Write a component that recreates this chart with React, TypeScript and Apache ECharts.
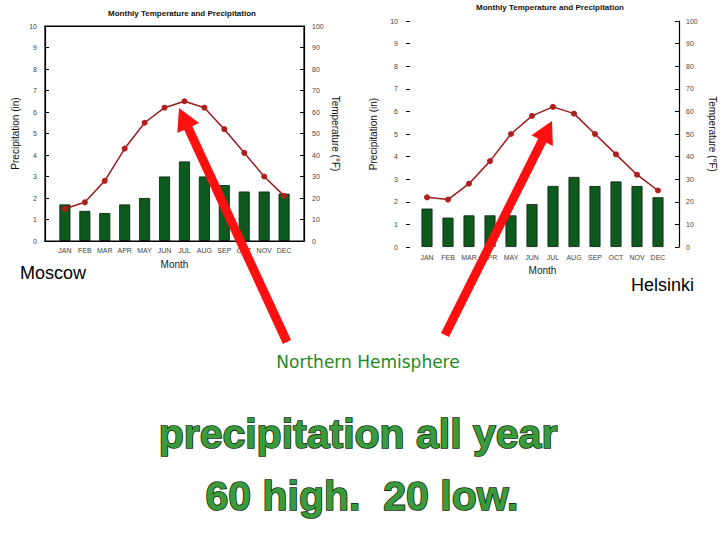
import React, { useEffect, useRef } from 'react';
import * as echarts from 'echarts';

const months = ['JAN', 'FEB', 'MAR', 'APR', 'MAY', 'JUN', 'JUL', 'AUG', 'SEP', 'OCT', 'NOV', 'DEC'];
const moscowPrecip = [1.7, 1.4, 1.3, 1.7, 2.0, 3.0, 3.7, 3.0, 2.6, 2.3, 2.3, 2.2];
const moscowTemp = [15, 18, 28, 43, 55, 62, 65, 62, 52, 41, 30, 21];
const helsinkiPrecip = [1.7, 1.3, 1.4, 1.4, 1.4, 1.9, 2.7, 3.1, 2.7, 2.9, 2.7, 2.2];
const helsinkiTemp = [22, 21, 28, 38, 50, 58, 62, 59, 50, 41, 32, 25];
const precipRange = [0, 10, 1];
const tempRange = [0, 100, 10];

const FONT = '"Liberation Sans", Arial, sans-serif';
const TITLE = 'Monthly Temperature and Precipitation';
const LINE_W = 1.2;
const MOSCOW_GRID = { left: 45, top: 26, width: 259, height: 215 };
const HELSINKI_GRID = { left: 406, top: 21, width: 273, height: 226 };

function arrow(tail: number[], tip: number[], shaft: number, headLen: number, headHalf: number, color: string) {
  const dx = tip[0] - tail[0];
  const dy = tip[1] - tail[1];
  const L = Math.hypot(dx, dy);
  const ux = dx / L, uy = dy / L;
  const bx = tip[0] - ux * headLen, by = tip[1] - uy * headLen;
  const nx = -uy, ny = ux;
  return [
    {
      type: 'line', z: 100,
      shape: { x1: tail[0], y1: tail[1], x2: bx + ux * 2, y2: by + uy * 2 },
      style: { stroke: color, lineWidth: shaft },
    },
    {
      type: 'polygon', z: 100,
      shape: { points: [[tip[0], tip[1]], [bx + nx * headHalf, by + ny * headHalf], [bx - nx * headHalf, by - ny * headHalf]] },
      style: { fill: color },
    },
  ];
}

function xAxisFor(gridIndex: number, margin: number, nameGap: number, showLine: boolean) {
  return {
    type: 'value', gridIndex, min: -1, max: 12, interval: 1, position: 'bottom',
    axisLine: { show: showLine, onZero: false, lineStyle: { color: '#000', width: LINE_W } },
    axisTick: { show: false }, splitLine: { show: false },
    axisLabel: {
      fontSize: 7, color: '#444', fontFamily: FONT, margin,
      formatter: (v: number) => (months[v] !== undefined ? months[v] : ''),
    },
    name: 'Month', nameLocation: 'middle', nameGap,
    nameTextStyle: { fontSize: 10, color: '#222', fontFamily: FONT },
  };
}

function yAxisFor(gridIndex: number, pos: 'left' | 'right', range: number[], name: string, nameGap: number, showLine: boolean, margin: number) {
  return {
    type: 'value', gridIndex, position: pos, min: range[0], max: range[1], interval: range[2],
    axisLine: { show: showLine, onZero: false, lineStyle: { color: '#000', width: LINE_W } },
    axisTick: { show: true, inside: true, length: 4, lineStyle: { color: '#000' } },
    splitLine: { show: false },
    axisLabel: { fontSize: 7, color: '#444', fontFamily: FONT, margin },
    name, nameLocation: 'middle', nameGap, nameRotate: pos === 'left' ? 90 : -90,
    nameTextStyle: { fontSize: 10, color: '#111', fontFamily: FONT },
  };
}

function barSeries(xi: number, yi: number, vals: number[]) {
  return {
    type: 'bar', xAxisIndex: xi, yAxisIndex: yi, barWidth: 11,
    data: vals.map((v, i) => [i, v]),
    itemStyle: { color: '#0e5a1e', borderColor: '#06200b', borderWidth: 0.8 },
  };
}

function lineSeries(xi: number, yi: number, vals: number[]) {
  return {
    type: 'line', xAxisIndex: xi, yAxisIndex: yi, z: 5,
    data: vals.map((v, i) => [i, v]),
    symbol: 'circle', symbolSize: 6,
    lineStyle: { color: '#9a1a1a', width: 1.5 },
    itemStyle: { color: '#b01e1e' },
  };
}

export default function App() {
  const ref = useRef<HTMLDivElement>(null);
  useEffect(() => {
    const chart = echarts.init(ref.current!, null, { renderer: 'svg' });
    const bigText = (text: string, x: number, y: number) => ({
      type: 'text', x, y, z: 50,
      style: {
        text, font: `bold 41px ${FONT}`, fill: '#3b9a3b', stroke: '#0f2f0f', lineWidth: 1.6,
        align: 'center', verticalAlign: 'middle', textAlign: 'center', textVerticalAlign: 'middle',
      },
    });
    const option: any = {
      animation: false,
      backgroundColor: '#fff',
      grid: [MOSCOW_GRID, HELSINKI_GRID],
      xAxis: [
        xAxisFor(0, 6, 18, true),
        xAxisFor(1, 7, 18, false),
        {
          type: 'value', gridIndex: 0, position: 'top', min: -1, max: 12, interval: 1,
          axisLine: { show: true, onZero: false, lineStyle: { color: '#000', width: LINE_W } },
          axisTick: { show: false }, axisLabel: { show: false }, splitLine: { show: false },
        },
      ],
      yAxis: [
        yAxisFor(0, 'left', precipRange, 'Precipitation (in)', 25, true, 8),
        yAxisFor(0, 'right', tempRange, 'Temperature (°F)', 26, true, 8),
        yAxisFor(1, 'left', precipRange, 'Precipitation (in)', 28, false, 8),
        yAxisFor(1, 'right', tempRange, 'Temperature (°F)', 28, true, 7),
      ],
      series: [
        barSeries(0, 0, moscowPrecip),
        lineSeries(0, 1, moscowTemp),
        barSeries(1, 2, helsinkiPrecip),
        lineSeries(1, 3, helsinkiTemp),
      ],
      graphic: [
        {
          type: 'rect', z: 10, silent: true,
          shape: { x: MOSCOW_GRID.left, y: MOSCOW_GRID.top, width: MOSCOW_GRID.width, height: MOSCOW_GRID.height },
          style: { fill: 'none', stroke: '#000', lineWidth: LINE_W },
        },
        { type: 'text', x: 182, y: 13, style: { text: TITLE, font: `bold 8px ${FONT}`, fill: '#111', align: 'center', verticalAlign: 'middle', textAlign: 'center', textVerticalAlign: 'middle' } },
        { type: 'text', x: 550, y: 7, style: { text: TITLE, font: `bold 8px ${FONT}`, fill: '#111', align: 'center', verticalAlign: 'middle', textAlign: 'center', textVerticalAlign: 'middle' } },
        { type: 'text', x: 20, y: 273, style: { text: 'Moscow', font: `18px ${FONT}`, fill: '#000', align: 'left', verticalAlign: 'middle', textAlign: 'left', textVerticalAlign: 'middle' } },
        { type: 'text', x: 694, y: 285, style: { text: 'Helsinki', font: `18px ${FONT}`, fill: '#000', align: 'right', verticalAlign: 'middle', textAlign: 'right', textVerticalAlign: 'middle' } },
        { type: 'text', x: 368, y: 362, style: { text: 'Northern Hemisphere', font: `17px "DejaVu Sans", sans-serif`, fill: '#1f8a1f', align: 'center', verticalAlign: 'middle', textAlign: 'center', textVerticalAlign: 'middle' } },
        bigText('precipitation all year', 358, 434),
        bigText('60 high.  20 low.', 362, 496),
        ...arrow([287, 342], [179, 108], 9, 22, 12, '#ff1010'),
        ...arrow([445, 335], [552, 121], 9, 22, 12, '#ff1010'),
      ],
    };
    chart.setOption(option);
    return () => chart.dispose();
  }, []);
  return <div ref={ref} style={{ position: 'absolute', left: 0, top: 0, width: 720, height: 540, background: '#fff' }} />;
}
